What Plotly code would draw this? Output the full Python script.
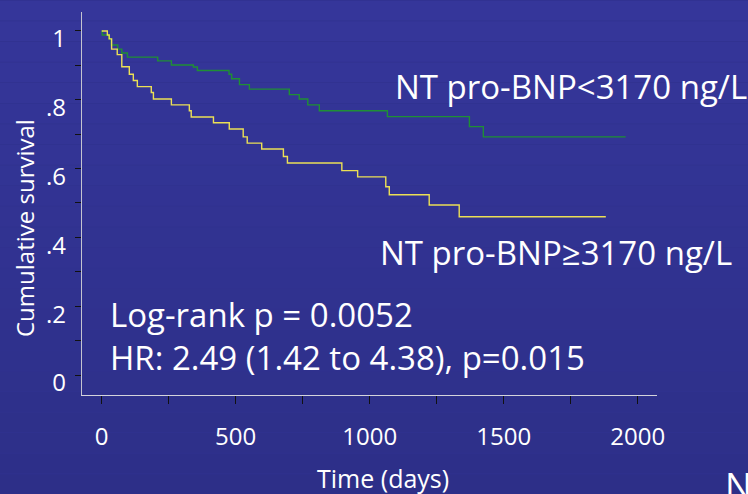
import plotly.graph_objects as go

# ---- data ----
low_t = [0, 2, 27, 36, 60, 75, 96, 209, 260, 342, 357, 475, 485, 514, 551, 700, 737, 769, 812, 1066, 1372, 1424, 1955]
low_s = [1.0, 0.988, 0.977, 0.959, 0.947, 0.936, 0.924, 0.913, 0.901, 0.895, 0.885, 0.874, 0.861, 0.844, 0.831, 0.815, 0.802, 0.785, 0.768, 0.751, 0.722, 0.692, 0.692]

high_t = [0, 21, 28, 37, 58, 75, 103, 118, 133, 185, 193, 260, 327, 334, 417, 476, 528, 543, 597, 678, 693, 896, 955, 1060, 1073, 1222, 1334, 1881]
high_s = [1.0, 0.988, 0.977, 0.947, 0.931, 0.896, 0.874, 0.856, 0.838, 0.821, 0.802, 0.785, 0.768, 0.750, 0.733, 0.715, 0.692, 0.674, 0.657, 0.635, 0.616, 0.594, 0.576, 0.547, 0.524, 0.494, 0.460, 0.460]

x_ticks = [0, 500, 1000, 1500, 2000]
x_minor = [250, 750, 1250, 1750]
y_ticks = [0, 0.2, 0.4, 0.6, 0.8, 1.0]
y_ticktext = ["0", ".2", ".4", ".6", ".8", "1"]
y_minor = [0.1, 0.3, 0.5, 0.7, 0.9]

label_low = "NT pro-BNP<3170 ng/L"
label_high = "NT pro-BNP≥3170 ng/L"
stat1 = "Log-rank p = 0.0052"
stat2 = "HR: 2.49 (1.42 to 4.38), p=0.015"

W, H = 748, 494
ML, MR, MT, MB = 82, 91, 12, 99
PW, PH = W - ML - MR, H - MT - MB
FONT = "Open Sans"


def px(x):
    return (x - ML) / PW


def py(y):
    return (H - MB - y) / PH


fig = go.Figure()
fig.add_trace(go.Scatter(x=low_t, y=low_s, mode="lines", line=dict(color="#1f8f35", width=1.4, shape="hv"),
                         name=label_low, showlegend=False))
fig.add_trace(go.Scatter(x=high_t, y=high_s, mode="lines", line=dict(color="#ece055", width=1.4, shape="hv"),
                         name=label_high, showlegend=False))

# subtle vertical background gradient
shapes = []
n = 24
top = (45, 47, 136)
bot = (53, 54, 154)
for i in range(n):
    f = i / (n - 1)
    c = tuple(round(top[k] + (bot[k] - top[k]) * f) for k in range(3))
    y0 = 1 - i / n
    y1 = 1 - (i + 1) / n
    shapes.append(dict(type="rect", xref="paper", yref="paper", layer="below",
                       x0=px(0), x1=px(W), y0=py(y0 * H), y1=py(y1 * H) - 0.002,
                       fillcolor="rgb(%d,%d,%d)" % c, line=dict(width=0)))

ann = []
def add(text, x, y, size, xanchor="left", yanchor="middle", angle=0):
    ann.append(dict(text=text, xref="paper", yref="paper", x=px(x), y=py(y), xanchor=xanchor,
                    yanchor=yanchor, showarrow=False, textangle=angle, align="left",
                    font=dict(family=FONT, size=size, color="white")))

add(label_low, 393, 87, 33)
add(label_high, 378, 252, 33)
add(stat1 + "<br>" + stat2, 108, 336, 33)
add("Time (days)", 383, 478, 25, xanchor="center")
add("Cumulative survival", 25, 228, 24, xanchor="center", angle=-90)
add("N", 723, 485, 36)

fig.update_layout(
    template="none",
    width=W, height=H, margin=dict(l=ML, r=MR, t=MT, b=MB, autoexpand=False),
    paper_bgcolor="#30328f", plot_bgcolor="rgba(0,0,0,0)",
    shapes=shapes, annotations=ann, showlegend=False,
    xaxis=dict(range=[-73.5, 2072], automargin=False, showgrid=False, zeroline=False, showline=True,
               linecolor="#d4d4dc", linewidth=1.2, ticks="outside", ticklen=8, tickcolor="#111",
               tickvals=x_ticks, ticktext=[str(v) for v in x_ticks], ticklabelstandoff=12,
               tickfont=dict(family=FONT, size=24, color="white"),
               minor=dict(tickvals=x_minor, ticks="outside", ticklen=8, tickcolor="#111")),
    yaxis=dict(range=[-0.058, 1.055], automargin=False, showgrid=False, zeroline=False, showline=True,
               linecolor="#c4c4d0", linewidth=1.2, ticks="outside", ticklen=6, tickcolor="#111",
               tickvals=y_ticks, ticktext=y_ticktext, ticklabelshift=8, ticklabelstandoff=4,
               tickfont=dict(family=FONT, size=24, color="white"),
               minor=dict(tickvals=y_minor, ticks="outside", ticklen=6, tickcolor="#111")),
)

fig.write_html("out.html")
